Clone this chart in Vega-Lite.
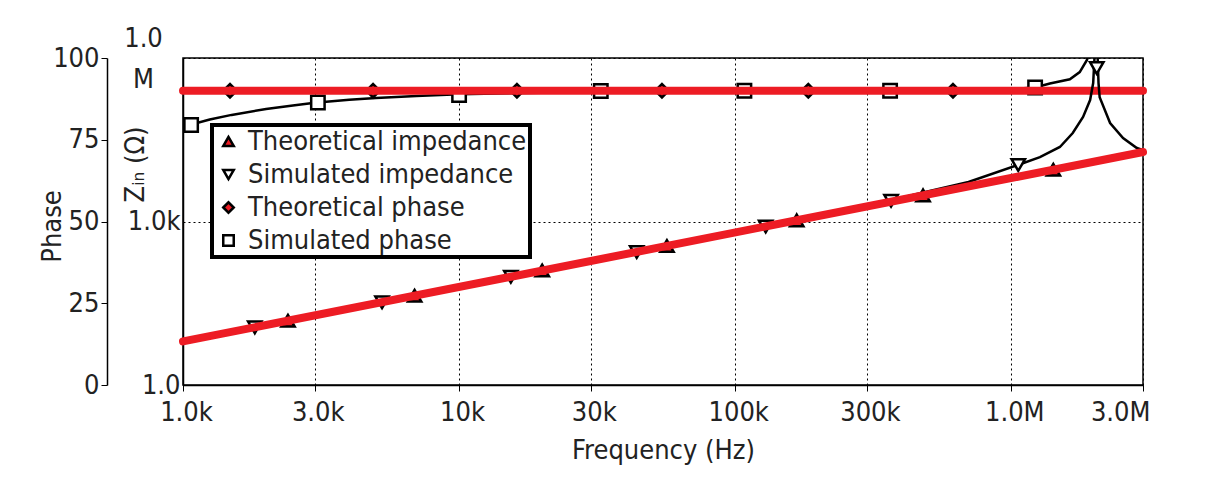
{
  "$schema": "https://vega.github.io/schema/vega-lite/v6.json",
  "width": 960,
  "height": 327,
  "autosize": {"type": "none"},
  "padding": {"left": 183, "top": 58, "right": 72, "bottom": 96},
  "background": "white",
  "config": {
    "font": "DejaVu Sans Condensed, sans-serif",
    "view": {"stroke": "black", "strokeWidth": 1.5},
    "axis": {
      "labelFont": "DejaVu Sans Condensed, sans-serif",
      "titleFont": "DejaVu Sans Condensed, sans-serif",
      "labelFontSize": 27,
      "titleFontSize": 27,
      "titleFontWeight": "normal",
      "labelColor": "#222",
      "titleColor": "#222",
      "domainColor": "black",
      "domainWidth": 1.5,
      "tickColor": "black",
      "gridColor": "black",
      "gridDash": [2, 3],
      "gridWidth": 1,
      "gridOpacity": 1
    },
    "legend": {
      "strokeColor": "black",
      "strokeWidth": 4,
      "fillColor": "white",
      "padding": 3,
      "labelFont": "DejaVu Sans Condensed, sans-serif",
      "labelFontSize": 27,
      "labelColor": "#222",
      "labelLimit": 400,
      "symbolSize": 110,
      "symbolStrokeWidth": 2.5,
      "rowPadding": 5,
      "labelOffset": 6
    }
  },
  "datasets": {
    "theory_phase": [
      {"freq": 1000, "phase": 90},
      {"freq": 3000000, "phase": 90}
    ],
    "sim_phase": [
      {"freq": 1000, "phase": 79.0},
      {"freq": 1250, "phase": 81.2},
      {"freq": 1500, "phase": 82.6},
      {"freq": 2000, "phase": 84.4},
      {"freq": 2500, "phase": 85.5},
      {"freq": 3000, "phase": 86.3},
      {"freq": 4000, "phase": 87.2},
      {"freq": 5000, "phase": 87.8},
      {"freq": 7000, "phase": 88.4},
      {"freq": 10000, "phase": 88.9},
      {"freq": 20000, "phase": 89.4},
      {"freq": 50000, "phase": 89.8},
      {"freq": 100000, "phase": 89.9},
      {"freq": 300000, "phase": 90.0},
      {"freq": 700000, "phase": 90.2},
      {"freq": 1000000, "phase": 90.5},
      {"freq": 1220000, "phase": 91.0},
      {"freq": 1380000, "phase": 92.2},
      {"freq": 1630000, "phase": 93.5},
      {"freq": 1770000, "phase": 95.7},
      {"freq": 1880000, "phase": 99.4},
      {"freq": 1950000, "phase": 104}
    ],
    "theory_z": [
      {"freq": 1000, "zin": 6.3},
      {"freq": 3000000, "zin": 18850}
    ],
    "sim_z": [
      {"freq": 1000, "zin": 6.4},
      {"freq": 2000, "zin": 12.7},
      {"freq": 5000, "zin": 31.5},
      {"freq": 10000, "zin": 63},
      {"freq": 30000, "zin": 189},
      {"freq": 100000, "zin": 630},
      {"freq": 300000, "zin": 1920},
      {"freq": 480000, "zin": 3400},
      {"freq": 700000, "zin": 5300},
      {"freq": 1057000, "zin": 10900},
      {"freq": 1270000, "zin": 15200},
      {"freq": 1500000, "zin": 23300},
      {"freq": 1670000, "zin": 42000},
      {"freq": 1820000, "zin": 82700},
      {"freq": 1930000, "zin": 169000},
      {"freq": 1980000, "zin": 348000},
      {"freq": 2010000, "zin": 1500000},
      {"freq": 2030000, "zin": 10000000},
      {"freq": 2050000, "zin": 1500000},
      {"freq": 2070000, "zin": 350000},
      {"freq": 2090000, "zin": 190000},
      {"freq": 2280000, "zin": 64000},
      {"freq": 2540000, "zin": 34000},
      {"freq": 2850000, "zin": 22300},
      {"freq": 3000000, "zin": 20500}
    ],
    "markers": [
      {"series": "Theoretical impedance", "freq": 2400, "zin": 15.1},
      {"series": "Theoretical impedance", "freq": 6900, "zin": 43.4},
      {"series": "Theoretical impedance", "freq": 20000, "zin": 126},
      {"series": "Theoretical impedance", "freq": 56600, "zin": 356},
      {"series": "Theoretical impedance", "freq": 167000, "zin": 1049},
      {"series": "Theoretical impedance", "freq": 479000, "zin": 3010},
      {"series": "Theoretical impedance", "freq": 1420000, "zin": 8920},
      {"series": "Simulated impedance", "freq": 1820, "zin": 11.4},
      {"series": "Simulated impedance", "freq": 5260, "zin": 33},
      {"series": "Simulated impedance", "freq": 15400, "zin": 97},
      {"series": "Simulated impedance", "freq": 44000, "zin": 276},
      {"series": "Simulated impedance", "freq": 129000, "zin": 810},
      {"series": "Simulated impedance", "freq": 367000, "zin": 2400},
      {"series": "Simulated impedance", "freq": 1060000, "zin": 10900},
      {"series": "Simulated impedance", "freq": 2040000, "zin": 656000},
      {"series": "Theoretical phase", "freq": 1480, "phase": 90},
      {"series": "Theoretical phase", "freq": 4880, "phase": 90},
      {"series": "Theoretical phase", "freq": 16200, "phase": 90},
      {"series": "Theoretical phase", "freq": 54300, "phase": 90},
      {"series": "Theoretical phase", "freq": 184000, "phase": 90},
      {"series": "Theoretical phase", "freq": 615000, "phase": 90},
      {"series": "Simulated phase", "freq": 1070, "phase": 79.5},
      {"series": "Simulated phase", "freq": 3080, "phase": 86.4},
      {"series": "Simulated phase", "freq": 10000, "phase": 88.7},
      {"series": "Simulated phase", "freq": 32600, "phase": 89.9},
      {"series": "Simulated phase", "freq": 108000, "phase": 90},
      {"series": "Simulated phase", "freq": 364000, "phase": 90},
      {"series": "Simulated phase", "freq": 1220000, "phase": 91}
    ]
  },
  "layer": [
    {
      "encoding": {
        "x": {
          "field": "freq",
          "type": "quantitative",
          "scale": {"type": "log", "domain": [1000, 3000000], "nice": false},
          "axis": {
            "values": [1000, 3000, 10000, 30000, 100000, 300000, 1000000, 3000000],
            "labelExpr": "datum.value == 1000 ? '1.0k' : datum.value == 3000 ? '3.0k' : datum.value == 10000 ? '10k' : datum.value == 30000 ? '30k' : datum.value == 100000 ? '100k' : datum.value == 300000 ? '300k' : datum.value == 1000000 ? '1.0M' : '3.0M'",
            "grid": true,
            "tickSize": 6,
            "labelPadding": 8,
            "labelFlush": false,
            "labelOverlap": false,
            "labelAlign": {"condition": {"test": "datum.value == 3000000", "value": "right"}, "value": "center"},
            "labelOffset": {"condition": {"test": "datum.value == 3000000", "value": 7}, "value": 3},
            "title": "Frequency (Hz)",
            "titlePadding": 12
          }
        },
        "y": {
          "field": "phase",
          "type": "quantitative",
          "scale": {"domain": [0, 100], "nice": false, "zero": false},
          "axis": {
            "orient": "left",
            "offset": 76,
            "values": [0, 25, 50, 75, 100],
            "grid": false,
            "tickSize": 6,
            "labelPadding": 2,
            "title": "Phase",
            "titleX": -55,
            "titleY": 168,
            "titleAlign": "center",
            "titleBaseline": "middle",
            "titleAngle": 270
          }
        }
      },
      "layer": [
        {
          "data": {"name": "sim_phase"},
          "mark": {"type": "line", "color": "black", "strokeWidth": 2.5, "clip": true}
        },
        {
          "data": {"name": "markers"},
          "transform": [{"filter": "isValid(datum.phase)"}],
          "mark": {"type": "point", "filled": false, "opacity": 1, "strokeWidth": 2.5, "size": 180},
          "encoding": {
            "shape": {
              "field": "series",
              "type": "nominal",
              "scale": {
                "domain": ["Theoretical impedance", "Simulated impedance", "Theoretical phase", "Simulated phase"],
                "range": ["triangle-up", "triangle-down", "diamond", "square"]
              },
              "legend": {"orient": "none", "legendX": 29, "legendY": 67, "title": null}
            },
            "fill": {
              "field": "series",
              "type": "nominal",
              "scale": {
                "domain": ["Theoretical impedance", "Simulated impedance", "Theoretical phase", "Simulated phase"],
                "range": ["#ED1C24", "white", "#ED1C24", "white"]
              },
              "legend": {"orient": "none", "legendX": 29, "legendY": 67, "title": null}
            },
            "stroke": {
              "field": "series",
              "type": "nominal",
              "scale": {
                "domain": ["Theoretical impedance", "Simulated impedance", "Theoretical phase", "Simulated phase"],
                "range": ["black", "black", "black", "black"]
              },
              "legend": {"orient": "none", "legendX": 29, "legendY": 67, "title": null}
            }
          }
        },
        {
          "data": {"name": "theory_phase"},
          "mark": {"type": "line", "color": "#ED1C24", "strokeWidth": 8, "strokeCap": "round"}
        }
      ]
    },
    {
      "encoding": {
        "x": {
          "field": "freq",
          "type": "quantitative",
          "scale": {"type": "log", "domain": [1000, 3000000], "nice": false},
          "axis": {
            "values": [1000, 3000, 10000, 30000, 100000, 300000, 1000000, 3000000],
            "labelExpr": "datum.value == 1000 ? '1.0k' : datum.value == 3000 ? '3.0k' : datum.value == 10000 ? '10k' : datum.value == 30000 ? '30k' : datum.value == 100000 ? '100k' : datum.value == 300000 ? '300k' : datum.value == 1000000 ? '1.0M' : '3.0M'",
            "grid": true,
            "tickSize": 6,
            "labelPadding": 8,
            "labelFlush": false,
            "labelOverlap": false,
            "labelAlign": {"condition": {"test": "datum.value == 3000000", "value": "right"}, "value": "center"},
            "labelOffset": {"condition": {"test": "datum.value == 3000000", "value": 7}, "value": 3},
            "title": "Frequency (Hz)",
            "titlePadding": 12
          }
        },
        "y": {
          "field": "zin",
          "type": "quantitative",
          "scale": {"type": "log", "domain": [1, 1000000], "nice": false},
          "axis": {
            "orient": "left",
            "offset": 0,
            "values": [1, 1000, 1000000],
            "grid": true,
            "ticks": false,
            "labelExpr": "datum.value == 1000000 ? ['1.0', 'M'] : datum.value == 1000 ? '1.0k' : '1.0'",
            "labelLineHeight": 41,
            "labelAlign": {"condition": {"test": "datum.value == 1000000", "value": "center"}, "value": "right"},
            "labelPadding": {"condition": {"test": "datum.value == 1000000", "value": 40}, "value": 3},
            "labelOffset": {"condition": {"test": "datum.value == 1000000", "value": -20}, "value": 0},
            "labelOverlap": false,
            "title": "Zᵢₙ (Ω)",
            "titleX": -48,
            "titleY": 106,
            "titleAlign": "center",
            "titleBaseline": "middle",
            "titleAngle": 270
          }
        }
      },
      "layer": [
        {
          "data": {"name": "sim_z"},
          "mark": {"type": "line", "color": "black", "strokeWidth": 2.5, "clip": true}
        },
        {
          "data": {"name": "markers"},
          "transform": [{"filter": "isValid(datum.zin)"}],
          "mark": {"type": "point", "filled": false, "opacity": 1, "strokeWidth": 2.5, "size": 180, "clip": true},
          "encoding": {
            "shape": {"field": "series", "type": "nominal"},
            "fill": {"field": "series", "type": "nominal"},
            "stroke": {"field": "series", "type": "nominal"}
          }
        },
        {
          "data": {"name": "theory_z"},
          "mark": {"type": "line", "color": "#ED1C24", "strokeWidth": 8, "strokeCap": "round"}
        }
      ]
    }
  ],
  "resolve": {"scale": {"y": "independent"}}
}
